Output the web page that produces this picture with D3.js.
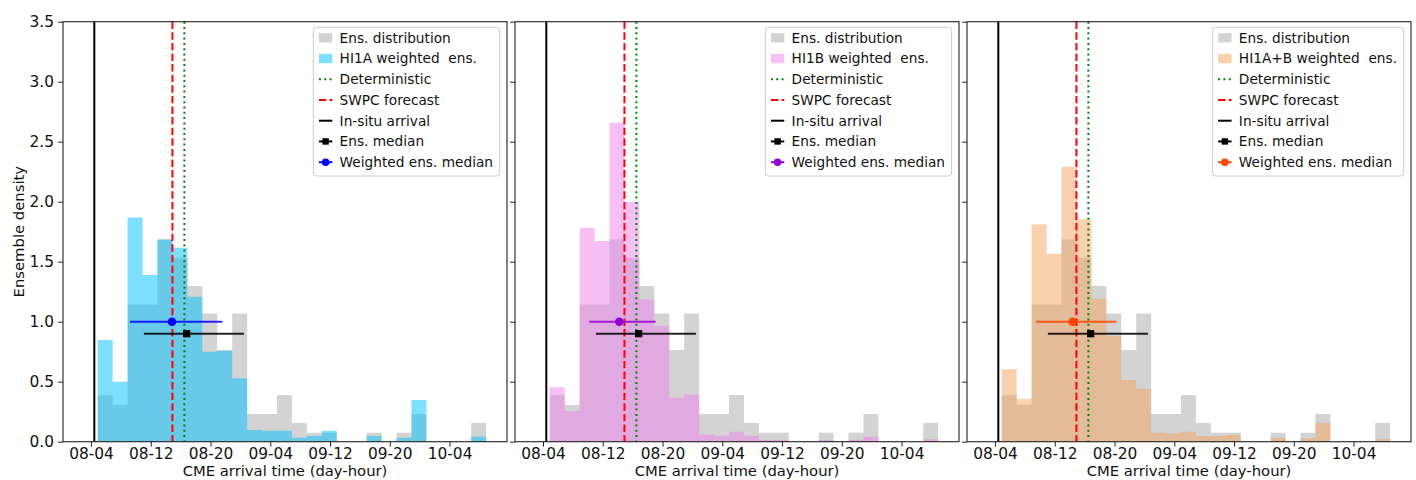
<!DOCTYPE html>
<html><head><meta charset="utf-8">
<script src="https://cdn.jsdelivr.net/npm/d3@7"></script>
<style>
body{margin:0;background:#fff;}
svg text{font-family:"DejaVu Sans",sans-serif;fill:#111;}
</style>
</head><body>
<svg id="c" width="1416" height="480"></svg>
<script>
// ---------------- data (hours after day 08, 00h) ----------------
const binStart = 4.9;
const binWidth = 2.0;
const ensDensity   = [0.389,0.306,1.144,1.144,1.686,1.533,1.297,1.069,0.764,1.069,0.231,0.231,0.389,0.156,0.075,0.075,0,0,0.075,0,0.075,0.231,0,0,0,0.156];
const hi1aDensity  = [0.847,0.500,1.869,1.389,1.686,1.617,1.208,0.750,0.758,0.528,0.097,0.092,0.092,0.033,0.047,0.092,0,0,0.047,0,0.033,0.347,0,0,0,0.042];
const hi1bDensity  = [0.453,0.256,1.783,1.672,2.658,2.000,1.186,0.964,0.367,0.394,0.061,0.050,0.083,0.050,0.014,0.014,0,0,0.014,0,0.014,0.042,0,0,0,0.020];
const hi1abDensity = [0.603,0.356,1.811,1.567,2.292,1.853,1.192,0.881,0.514,0.444,0.075,0.069,0.083,0.047,0.047,0.056,0,0,0.033,0,0.028,0.158,0,0,0,0.025];

const xTickHours  = [4,12,20,28,36,44,52];
const xTickLabels = ["08-04","08-12","08-20","09-04","09-12","09-20","10-04"];
const yTickValues = [0,0.5,1.0,1.5,2.0,2.5,3.0,3.5];

const insituHour = 4.44;
const swpcHour = 14.9;
const deterministicHour = 16.5;

const ensMedianHour = 16.8, ensMedianLo = 11.08, ensMedianHi = 24.47, ensMedianY = 0.9;
const weightedMedianHour = [14.84, 14.21, 14.39];
const weightedMedianLo   = [9.22, 10.20, 9.49];
const weightedMedianHi   = [21.58, 19.07, 20.25];
const weightedMedianY    = [1.0, 1.0, 1.0];

const seriesNames = ["HI1A weighted  ens.", "HI1B weighted  ens.", "HI1A+B weighted  ens."];
const seriesData  = [hi1aDensity, hi1bDensity, hi1abDensity];
const legendLabels = ["Ens. distribution", null, "Deterministic", "SWPC forecast", "In-situ arrival", "Ens. median", "Weighted ens. median"];

// ---------------- styles / layout ----------------
const seriesFill   = ["#00bfff", "#ee82ee", "#f4a460"];
const medianColors = ["#0000ff", "#9400d3", "#ff4500"];
const panelLeft = [63, 515, 967];
const panelW = 444, plotTop = 21.7, plotBottom = 441.7;
const xDomain = [0.25, 59.69];
const tickFont = 15.4, labelFont = 14.8, legFont = 13.7;

const svg = d3.select("#c");
const y = d3.scaleLinear().domain([0, 3.5]).range([plotBottom, plotTop]);

function edges(){
  const n = ensDensity.length;
  return d3.range(n + 1).map(i => binStart + i * binWidth);
}

panelLeft.forEach((left, p) => {
  const x = d3.scaleLinear().domain(xDomain).range([left, left + panelW]);
  const g = svg.append("g");
  const e = edges();
  const area = d3.area().curve(d3.curveStepAfter)
    .x(d => x(d[0])).y0(y(0)).y1(d => y(d[1]));
  const pts = vals => e.map((ed, i) => [ed, vals[Math.min(i, vals.length - 1)]]);

  g.append("path").attr("d", area(pts(ensDensity))).attr("fill", "#d3d3d3");
  g.append("path").attr("d", area(pts(seriesData[p]))).attr("fill", seriesFill[p]).attr("fill-opacity", 0.5);

  // vertical lines
  const vline = (h, color, dash) => g.append("line")
    .attr("x1", x(h)).attr("x2", x(h)).attr("y1", plotTop).attr("y2", plotBottom)
    .attr("stroke", color).attr("stroke-width", 2).attr("stroke-dasharray", dash);
  vline(insituHour, "#000", null);
  vline(swpcHour, "#ff0000", "7.4,3.2");
  vline(deterministicHour, "#008000", "2,3.3");

  // error bars
  g.append("line").attr("x1", x(weightedMedianLo[p])).attr("x2", x(weightedMedianHi[p]))
    .attr("y1", y(weightedMedianY[p])).attr("y2", y(weightedMedianY[p]))
    .attr("stroke", medianColors[p]).attr("stroke-width", 2).attr("stroke-opacity", 0.85);
  g.append("circle").attr("cx", x(weightedMedianHour[p])).attr("cy", y(weightedMedianY[p]))
    .attr("r", 4.3).attr("fill", medianColors[p]);
  g.append("line").attr("x1", x(ensMedianLo)).attr("x2", x(ensMedianHi))
    .attr("y1", y(ensMedianY)).attr("y2", y(ensMedianY))
    .attr("stroke", "#000").attr("stroke-width", 2).attr("stroke-opacity", 0.85);
  g.append("rect").attr("x", x(ensMedianHour) - 3.6).attr("y", y(ensMedianY) - 3.6)
    .attr("width", 7.2).attr("height", 7.2).attr("fill", "#000");

  // axes
  const xa = d3.axisBottom(x).tickValues(xTickHours).tickFormat((d, i) => xTickLabels[i])
    .tickSize(4.9).tickPadding(1.5);
  const gx = svg.append("g").attr("transform", `translate(0,${plotBottom})`).call(xa);
  gx.select(".domain").remove();
  gx.selectAll("text").attr("font-size", tickFont).attr("font-family", "DejaVu Sans");
  gx.selectAll("line").attr("stroke", "#222");

  const ya = d3.axisLeft(y).tickValues(yTickValues).tickFormat(p === 0 ? d3.format(".1f") : () => "")
    .tickSize(4.9).tickPadding(4.1);
  const gy = svg.append("g").attr("transform", `translate(${left},0)`).call(ya);
  gy.select(".domain").remove();
  gy.selectAll("text").attr("font-size", tickFont).attr("font-family", "DejaVu Sans");
  gy.selectAll("line").attr("stroke", "#222");

  // spines
  svg.append("rect").attr("x", left).attr("y", plotTop).attr("width", panelW).attr("height", plotBottom - plotTop)
    .attr("fill", "none").attr("stroke", "#222").attr("stroke-width", 1.1);

  // x label
  svg.append("text").attr("x", left + panelW / 2).attr("y", 476.4).attr("text-anchor", "middle")
    .attr("font-size", labelFont).text("CME arrival time (day-hour)");

  // legend
  const labels = legendLabels.map((l, i) => i === 1 ? seriesNames[p] : l);
  const lg = svg.append("g");
  const box = lg.append("rect");
  const texts = labels.map((l, i) => lg.append("text").attr("font-size", legFont)
    .attr("dy", "0.36em").style("white-space", "pre").text(l));
  const maxW = d3.max(texts, t => t.node().getComputedTextLength());
  const legW = 26.3 + maxW + 6.6;
  const legRight = left + panelW - 7.4;
  const legLeft = legRight - legW;
  const legTop = plotTop + 5.6, rowH = 20.75, row0 = plotTop + 16.0;
  box.attr("x", legLeft).attr("y", legTop).attr("width", legW).attr("height", 148.7)
    .attr("rx", 3).attr("fill", "#fff").attr("fill-opacity", 0.8).attr("stroke", "#cccccc").attr("stroke-width", 1);
  texts.forEach((t, i) => t.attr("x", legLeft + 26.3).attr("y", row0 + i * rowH));
  const hx0 = legLeft + 5.6, hx1 = legLeft + 19.0, hxm = (hx0 + hx1) / 2;
  const ry = i => row0 + i * rowH;
  lg.append("rect").attr("x", hx0).attr("y", ry(0) - 4.6).attr("width", hx1 - hx0).attr("height", 9.3).attr("fill", "#d3d3d3");
  lg.append("rect").attr("x", hx0).attr("y", ry(1) - 4.6).attr("width", hx1 - hx0).attr("height", 9.3)
    .attr("fill", seriesFill[p]).attr("fill-opacity", 0.5);
  const hline = (i, color, dash) => lg.append("line").attr("x1", hx0).attr("x2", hx1).attr("y1", ry(i)).attr("y2", ry(i))
    .attr("stroke", color).attr("stroke-width", 2).attr("stroke-dasharray", dash);
  hline(2, "#008000", "2,3.3");
  hline(3, "#ff0000", "7.4,3.2");
  hline(4, "#000", null);
  hline(5, "#000", null);
  lg.append("rect").attr("x", hxm - 3.2).attr("y", ry(5) - 3.2).attr("width", 6.4).attr("height", 6.4).attr("fill", "#000");
  hline(6, medianColors[p], null);
  lg.append("circle").attr("cx", hxm).attr("cy", ry(6)).attr("r", 3.8).attr("fill", medianColors[p]);
});

// y label
svg.append("text").attr("transform", `translate(24,${(plotTop + plotBottom) / 2}) rotate(-90)`)
  .attr("text-anchor", "middle").attr("font-size", labelFont).text("Ensemble density");
</script>
</body></html>
